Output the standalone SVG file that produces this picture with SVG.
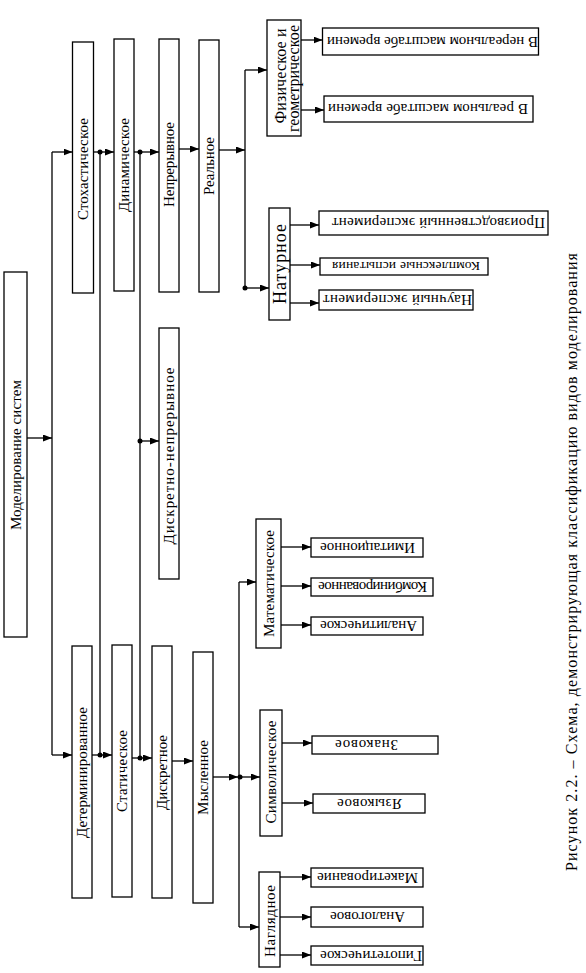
<svg xmlns="http://www.w3.org/2000/svg" width="586" height="973" viewBox="0 0 586 973">
<style>
.b{fill:#fff;stroke:#000;stroke-width:1.3}
.t{font-family:"Liberation Serif","Times New Roman",serif;font-size:15px;fill:#000;text-anchor:middle}
.c path{fill:none;stroke:#000;stroke-width:1.3}
.c circle{fill:#000}
</style>
<defs>
<marker id="a" markerUnits="userSpaceOnUse" markerWidth="9" markerHeight="7" refX="9" refY="3.5" orient="auto">
<path d="M0,0 L9,3.5 L0,7 z" fill="#000"/>
</marker>
</defs>
<rect width="586" height="973" fill="#fff"/>
<g class="c" id="connectors">
<path d="M27,438 H52" marker-end="url(#a)"/>
<path d="M52,152 V755"/>
<path d="M52,152 H72.5" marker-end="url(#a)"/>
<path d="M52,755 H72" marker-end="url(#a)"/>
<path d="M93.5,152 H114" marker-end="url(#a)"/>
<path d="M100,152 V755"/>
<circle cx="100" cy="152" r="2.5"/>
<path d="M92,755 H112" marker-end="url(#a)"/>
<circle cx="100" cy="755" r="2.5"/>
<path d="M134,152 H159" marker-end="url(#a)"/>
<circle cx="140" cy="152" r="2.5"/>
<path d="M140,152 V758"/>
<circle cx="140" cy="441" r="2.5"/>
<path d="M140,441 H159" marker-end="url(#a)"/>
<path d="M132,758 H152" marker-end="url(#a)"/>
<circle cx="140" cy="758" r="2.5"/>
<path d="M179,149 H199" marker-end="url(#a)"/>
<path d="M219,150 H245" marker-end="url(#a)"/>
<path d="M245,70 V288"/>
<path d="M245,70 H267" marker-end="url(#a)"/>
<path d="M245,288 H269" marker-end="url(#a)"/>
<circle cx="245" cy="288" r="2.5"/>
<path d="M301,40 H322.5" marker-end="url(#a)"/>
<path d="M301,110 H324" marker-end="url(#a)"/>
<path d="M290,225 H319" marker-end="url(#a)"/>
<path d="M290,265 H320" marker-end="url(#a)"/>
<path d="M290,303 H319" marker-end="url(#a)"/>
<path d="M172,761 H193" marker-end="url(#a)"/>
<path d="M213,777 H238" marker-end="url(#a)"/>
<circle cx="240" cy="777" r="2.5"/>
<path d="M239,777 H260" marker-end="url(#a)"/>
<path d="M239,582 V927"/>
<path d="M239,582 H256" marker-end="url(#a)"/>
<path d="M239,927 H259" marker-end="url(#a)"/>
<path d="M281,547 H311" marker-end="url(#a)"/>
<path d="M281,586 H311" marker-end="url(#a)"/>
<path d="M281,625 H311" marker-end="url(#a)"/>
<path d="M282,743 H312" marker-end="url(#a)"/>
<path d="M282,803 H313" marker-end="url(#a)"/>
<path d="M280,877 H311" marker-end="url(#a)"/>
<path d="M280,917 H311" marker-end="url(#a)"/>
<path d="M280,955 H311" marker-end="url(#a)"/>
</g>

<g id="n-root"><rect class="b" x="4" y="272" width="23" height="365"/>
<text class="t" transform="translate(15.5,455) rotate(-90)" y="5" textLength="150">Моделирование систем</text></g>
<g id="n-stoch"><rect class="b" x="72.5" y="42" width="21" height="251"/>
<text class="t" transform="translate(83,169) rotate(-90)" y="5" textLength="102">Стохастическое</text></g>
<g id="n-dyn"><rect class="b" x="114" y="39" width="20" height="252"/>
<text class="t" transform="translate(124,165) rotate(-90)" y="5" textLength="94">Динамическое</text></g>
<g id="n-cont"><rect class="b" x="159" y="39" width="20" height="253"/>
<text class="t" transform="translate(169,164.5) rotate(-90)" y="5" textLength="85">Непрерывное</text></g>
<g id="n-real"><rect class="b" x="199" y="40" width="20" height="252"/>
<text class="t" transform="translate(209,166) rotate(-90)" y="5" textLength="58">Реальное</text></g>
<g id="n-phys"><rect class="b" x="267" y="20" width="34" height="116"/>
<text class="t" style="font-size:16px" transform="translate(286,76) rotate(-90)" textLength="95">Физическое и</text>
<text class="t" style="font-size:16px" transform="translate(299,78.5) rotate(-90)" textLength="107">геометрическое</text></g>
<g id="n-nat"><rect class="b" x="269" y="208" width="21" height="112"/>
<text class="t" style="font-size:18px" transform="translate(279.5,264) rotate(-90)" y="6" textLength="80">Натурное</text></g>
<g id="n-dc"><rect class="b" x="159" y="328" width="20" height="251"/>
<text class="t" transform="translate(169,456) rotate(-90)" y="5" textLength="177">Дискретно-непрерывное</text></g>
<g id="n-det"><rect class="b" x="72" y="646" width="20" height="252"/>
<text class="t" transform="translate(82,772.5) rotate(-90)" y="5" textLength="131">Детерминированное</text></g>
<g id="n-stat"><rect class="b" x="112" y="645" width="20" height="252"/>
<text class="t" transform="translate(122,771) rotate(-90)" y="5" textLength="82">Статическое</text></g>
<g id="n-disc"><rect class="b" x="152" y="646" width="20" height="252"/>
<text class="t" transform="translate(162,772.5) rotate(-90)" y="5" textLength="75">Дискретное</text></g>
<g id="n-ment"><rect class="b" x="193" y="652" width="20" height="251"/>
<text class="t" transform="translate(203,777.5) rotate(-90)" y="5" textLength="75">Мысленное</text></g>
<g id="n-math"><rect class="b" x="256" y="519" width="25" height="129"/>
<text class="t" transform="translate(268.5,583.5) rotate(-90)" y="5" textLength="107">Математическое</text></g>
<g id="n-sym"><rect class="b" x="260" y="710" width="22" height="126"/>
<text class="t" transform="translate(271,772) rotate(-90)" y="5" textLength="103">Символическое</text></g>
<g id="n-vis"><rect class="b" x="259" y="872" width="21" height="95"/>
<text class="t" transform="translate(269.5,921) rotate(-90)" y="5" textLength="72">Наглядное</text></g>

<g id="l-nonreal"><rect class="b" x="322.5" y="28" width="216" height="27"/>
<text class="t" transform="translate(432.5,41.5) rotate(180)" y="5" textLength="211">В нереальном масштабе времени</text></g>
<g id="l-realtime"><rect class="b" x="324" y="96" width="209" height="26"/>
<text class="t" transform="translate(428,109) rotate(180)" y="5" textLength="200">В реальном масштабе времени</text></g>
<g id="l-prod"><rect class="b" x="319" y="211" width="229" height="24"/>
<text class="t" transform="translate(438.5,223) rotate(180)" y="5" textLength="213">Производственный эксперимент</text></g>
<g id="l-complex"><rect class="b" x="320" y="258" width="168" height="17"/>
<text class="t" style="font-size:13.5px" transform="translate(406,266.5) rotate(180)" y="4.5" textLength="148">Комплексные испытания</text></g>
<g id="l-sci"><rect class="b" x="319" y="290" width="154" height="20"/>
<text class="t" transform="translate(397.5,300) rotate(180)" y="5" textLength="149">Научный эксперимент</text></g>
<g id="l-imit"><rect class="b" x="311" y="538" width="112" height="19"/>
<text class="t" transform="translate(367.5,547.5) rotate(180)" y="5" textLength="95">Имитационное</text></g>
<g id="l-comb"><rect class="b" x="311" y="578" width="122" height="18"/>
<text class="t" transform="translate(372.5,587) rotate(180)" y="5" textLength="109">Комбинированное</text></g>
<g id="l-anal"><rect class="b" x="311" y="617" width="112" height="18"/>
<text class="t" transform="translate(368.5,626) rotate(180)" y="5" textLength="97">Аналитическое</text></g>
<g id="l-sign"><rect class="b" x="312" y="736" width="126" height="18"/>
<text class="t" transform="translate(366.5,745) rotate(180)" y="5" textLength="63">Знаковое</text></g>
<g id="l-lang"><rect class="b" x="313" y="794" width="112" height="19"/>
<text class="t" transform="translate(369.5,803.5) rotate(180)" y="5" textLength="65">Языковое</text></g>
<g id="l-mock"><rect class="b" x="311" y="868" width="112" height="19"/>
<text class="t" transform="translate(367.5,877.5) rotate(180)" y="5" textLength="101">Макетирование</text></g>
<g id="l-analog"><rect class="b" x="311" y="907" width="112" height="20"/>
<text class="t" transform="translate(367.5,917) rotate(180)" y="5" textLength="75">Аналоговое</text></g>
<g id="l-hyp"><rect class="b" x="311" y="946" width="112" height="19"/>
<text class="t" transform="translate(371,955.5) rotate(180)" y="5" textLength="102">Гипотетическое</text></g>

<text class="t" style="font-size:16px" transform="translate(572,562) rotate(-90)" y="5" textLength="618">Рисунок 2.2. – Схема, демонстрирующая классификацию видов моделирования</text>
</svg>
